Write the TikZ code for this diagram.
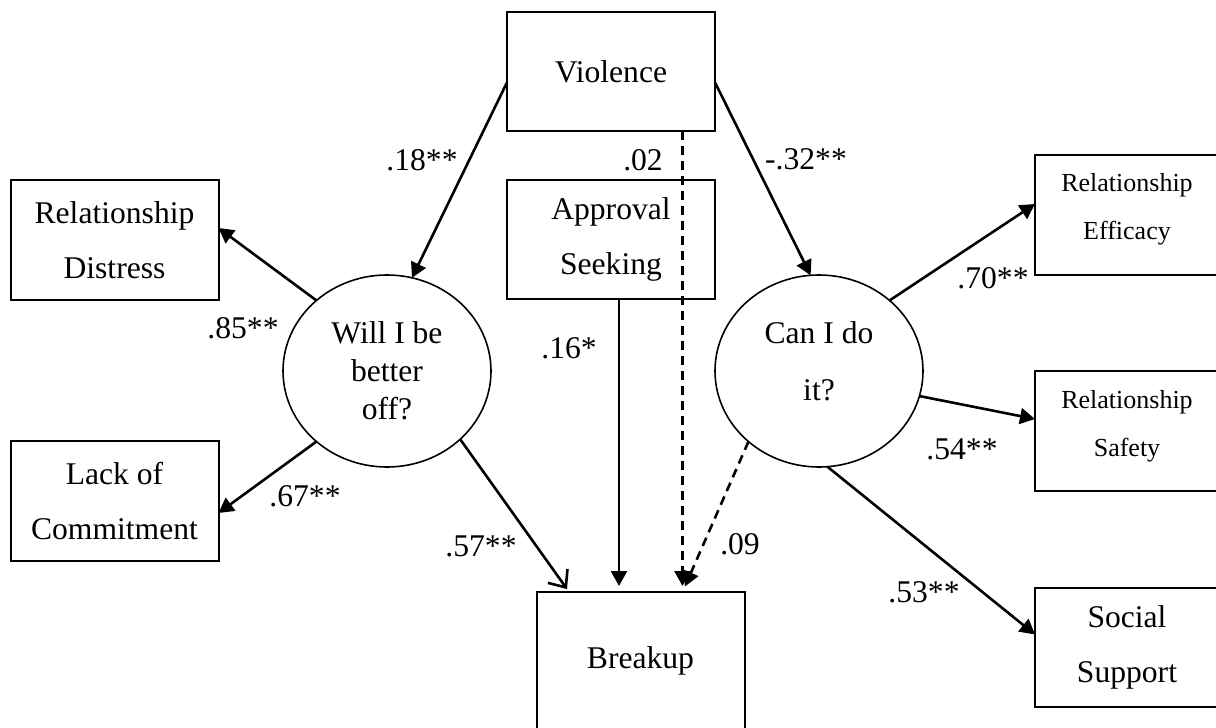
\documentclass[tikz,border=0pt]{standalone}
\usepackage{fontspec}
\setmainfont{Liberation Serif}
\usetikzlibrary{arrows.meta,calc,positioning,shapes.geometric}

\begin{document}
\begin{tikzpicture}[x=1pt, y=-1pt]
\tikzstyle{var}=[draw, line width=2pt, inner sep=0pt, outer sep=0pt, align=center, minimum width=208pt, minimum height=120pt, font=\fontsize{31.6}{55}\selectfont]
\tikzstyle{smallvar}=[var, minimum width=184pt]
\tikzstyle{smalltext}=[inner sep=0pt, align=center, font=\fontsize{26}{48}\selectfont]
\tikzstyle{latent}=[draw, ellipse, line width=1.6pt, inner sep=0pt, outer sep=0pt, minimum width=208pt, minimum height=192pt, align=center]
\tikzstyle{effect}=[line width=2.6pt, -{Triangle[length=15pt,width=16pt]}]
\tikzstyle{nseffect}=[effect, dash pattern=on 9pt off 6pt]
\tikzstyle{coef}=[inner sep=0pt, font=\fontsize{31.6}{38}\selectfont]

\clip (0,0) rectangle (1216,728);

% observed variables
\node [var, minimum height=119pt] (viol) at (611,71.5) {Violence};
\node [var, minimum height=119pt] (appr) at (611,239.5) {Approval\\Seeking};
\node [var] (dist) at (114.5,240) {Relationship\\Distress};
\node [var] (lack) at (114.5,501) {Lack of\\Commitment};
\node [var, minimum height=138pt] (brk) at (640.5,661) {Breakup};
\node [smallvar] (eff) at (1127,215) {};
\node [smalltext] (efftext) at ([yshift=6pt]eff.center) {Relationship\\Efficacy};
\node [smallvar] (saf) at (1127,431) {};
\node [smalltext] (saftext) at ([yshift=5pt]saf.center) {Relationship\\Safety};
\node [var, minimum width=184pt, minimum height=119pt] (soc) at (1127,647.5) {Social\\Support};

% latent variables
\node [latent, font=\fontsize{31.6}{38}\selectfont] (will) at (387,371) {Will I be\\better\\off?};
\node [latent] (can) at (819,371) {};
\node [inner sep=0pt, align=center, font=\fontsize{31.6}{57}\selectfont] (cantext) at ([yshift=10pt]can.center) {Can I do\\it?};

\coordinate (violfoot) at ($(viol.south)+(71.5,0)$);
\coordinate (apprfoot) at ($(appr.south)+(8,0)$);

\draw [effect] (viol.186) -- (will.75);
\draw [effect] (viol.354) -- (can.95);
\draw [effect] (will.135) -- ([yshift=12pt]dist.east);
\draw [effect] (will.225) -- ([yshift=-12pt]lack.east);
\draw [line width=2.6pt, -{Straight Barb[length=14pt,width=24pt]}] (will.317) -- ([xshift=-73.5pt,yshift=3pt]brk.north);
\draw [effect, shorten >=6pt] (apprfoot) -- (apprfoot |- brk.north);
\draw [nseffect, shorten >=6pt] (violfoot) -- (violfoot |- brk.north);
\draw [nseffect, shorten >=6pt] (can.225) -- (violfoot |- brk.north);
\draw [effect] (can.45) -- ([yshift=11pt]eff.west);
\draw [effect] (can.-14) -- ([yshift=12pt]saf.west);
\draw [effect] (can.275) -- ([yshift=13pt]soc.west);

% path coefficients
\node [coef] (c18) at (422,160) {.18**};
\node [coef] (c02) at (643,160) {.02};
\node [coef] (c32) at (806,159) {-.32**};
\node [coef] (c85) at (243,328) {.85**};
\node [coef] (c16) at (569,348) {.16*};
\node [coef] (c67) at (305,496) {.67**};
\node [coef] (c57) at (481,546) {.57**};
\node [coef] (c09) at (740,544) {.09};
\node [coef] (c70) at (993,278) {.70**};
\node [coef] (c54) at (962,449) {.54**};
\node [coef] (c53) at (924,592) {.53**};

\end{tikzpicture}
\end{document}
